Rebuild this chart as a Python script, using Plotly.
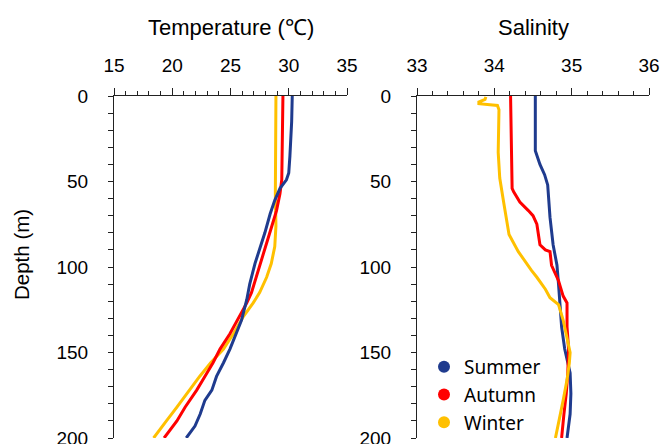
import plotly.graph_objects as go

# ---------------- data ----------------
seasons = ["Summer", "Autumn", "Winter"]
colors = ["#1F3B8E", "#FF0000", "#FFC000"]

temp_summer_depth = [0, 15, 35, 45, 49, 54, 61, 69, 80, 88, 98, 110, 119, 131, 139, 148, 156, 164, 172, 178, 186, 193, 200]
temp_summer = [30.3, 30.25, 30.1, 30.0, 29.8, 29.25, 28.8, 28.4, 27.95, 27.55, 27.1, 26.65, 26.4, 25.95, 25.5, 24.95, 24.4, 23.8, 23.4, 22.8, 22.4, 21.95, 21.2]

temp_autumn_depth = [0, 35, 49, 57, 67, 76, 86, 96, 106, 115, 121, 129, 139, 148, 156, 164, 172, 182, 190, 200]
temp_autumn = [29.5, 29.4, 29.4, 29.25, 28.95, 28.55, 28.1, 27.65, 27.25, 26.8, 26.4, 25.75, 24.95, 24.1, 23.5, 22.8, 22.1, 21.1, 20.4, 19.3]

temp_winter_depth = [0, 40, 57, 76, 88, 98, 106, 115, 121, 129, 139, 148, 156, 164, 172, 182, 190, 200]
temp_winter = [28.9, 28.85, 28.85, 28.9, 28.8, 28.5, 28.1, 27.5, 26.95, 26.1, 25.25, 24.4, 23.3, 22.35, 21.5, 20.4, 19.5, 18.4]

sal_summer_depth = [0, 32, 40, 46, 52, 71, 87, 99, 110, 121, 135, 148, 162, 174, 186, 200]
sal_summer = [34.53, 34.53, 34.59, 34.65, 34.69, 34.72, 34.76, 34.81, 34.83, 34.85, 34.87, 34.91, 34.98, 34.99, 34.98, 34.94]

sal_autumn_depth = [0, 30, 54, 56, 62, 67, 70, 75, 81, 87, 90, 91, 99, 108, 117, 121, 135, 148, 162, 174, 186, 200]
sal_autumn = [34.21, 34.22, 34.23, 34.25, 34.33, 34.44, 34.50, 34.55, 34.57, 34.59, 34.66, 34.72, 34.74, 34.83, 34.89, 34.94, 34.94, 34.96, 34.95, 34.93, 34.90, 34.87]

sal_winter_depth = [0.5, 2, 3.5, 4.5, 5.5, 8, 33, 48, 62, 71, 81, 91, 97, 102, 106, 113, 118, 122, 131, 141, 150, 156, 166, 178, 190, 200]
sal_winter = [33.89, 33.88, 33.80, 33.80, 34.04, 34.06, 34.05, 34.07, 34.12, 34.15, 34.19, 34.31, 34.40, 34.48, 34.55, 34.66, 34.72, 34.83, 34.89, 34.94, 34.98, 34.97, 34.94, 34.89, 34.84, 34.79]

temp_x_ticks = [15, 20, 25, 30, 35]
sal_x_ticks = [33, 34, 35, 36]
depth_ticks = [0, 50, 100, 150, 200]

# ---------------- figure ----------------
W, H = 660, 444
FONT = "Liberation Sans, Arial, sans-serif"

fig = go.Figure()

temps = [(temp_summer_depth, temp_summer), (temp_autumn_depth, temp_autumn), (temp_winter_depth, temp_winter)]
sals = [(sal_summer_depth, sal_summer), (sal_autumn_depth, sal_autumn), (sal_winter_depth, sal_winter)]

for i in [2, 1, 0]:
    d, v = temps[i]
    fig.add_trace(go.Scatter(x=v, y=d, mode="lines", xaxis="x", yaxis="y",
                             line=dict(color=colors[i], width=3), showlegend=False,
                             hoverinfo="skip"))
for i in [0, 1, 2]:
    d, v = sals[i]
    fig.add_trace(go.Scatter(x=v, y=d, mode="lines", xaxis="x2", yaxis="y2",
                             line=dict(color=colors[i], width=3), showlegend=False,
                             hoverinfo="skip"))

# legend entries (dots)
for i, s in enumerate(seasons):
    fig.add_trace(go.Scatter(x=[None], y=[None], mode="markers", name=s,
                             xaxis="x2", yaxis="y2",
                             marker=dict(color=colors[i], size=9)))

axis_common = dict(showline=True, linecolor="#222", linewidth=1.2, ticks="outside",
                   tickcolor="#222", tickwidth=1.2, showgrid=False, zeroline=False,
                   automargin=False, ticklabeloverflow="allow",
                   tickfont=dict(family=FONT, size=19, color="#000"))

ydom = [1 - 438 / H, 1 - 96 / H]

fig.update_layout(
    width=W, height=H,
    margin=dict(l=0, r=0, t=0, b=0, autoexpand=False),
    paper_bgcolor="white", plot_bgcolor="white",
    xaxis=dict(domain=[114 / W, 347 / W], range=[15, 35], side="top", anchor="y",
               tickvals=temp_x_ticks, ticklen=7, ticklabelstandoff=8,
               minor=dict(dtick=1, tick0=15, ticklen=4, ticks="outside", tickcolor="#222", tickwidth=1.2),
               **axis_common),
    yaxis=dict(domain=ydom, range=[200, 0], anchor="x",
               tickvals=depth_ticks, ticklen=5, ticklabelstandoff=16,
               minor=dict(dtick=10, tick0=0, ticklen=5, ticks="outside", tickcolor="#222", tickwidth=1.2),
               **axis_common),
    xaxis2=dict(domain=[417 / W, 649 / W], range=[33, 36], side="top", anchor="y2",
                tickvals=sal_x_ticks, ticklen=7, ticklabelstandoff=8,
                minor=dict(dtick=0.2, tick0=33, ticklen=4, ticks="outside", tickcolor="#222", tickwidth=1.2),
                **axis_common),
    yaxis2=dict(domain=ydom, range=[200, 0], anchor="x2",
                tickvals=depth_ticks, ticklen=5, ticklabelstandoff=16,
                minor=dict(dtick=10, tick0=0, ticklen=5, ticks="outside", tickcolor="#222", tickwidth=1.2),
                **axis_common),
    legend=dict(x=424 / W, y=1 - 348 / H, xanchor="left", yanchor="top",
                bgcolor="rgba(0,0,0,0)", font=dict(family="Noto Sans, Open Sans, sans-serif", size=19, color="#000"),
                tracegroupgap=0, itemsizing="constant"),
    showlegend=True,
    annotations=[
        dict(text="Temperature (℃)", x=230.5 / W, y=1 - 27 / H, xref="paper", yref="paper",
             xanchor="center", yanchor="middle", showarrow=False,
             font=dict(family=FONT, size=22, color="#000")),
        dict(text="Salinity", x=533 / W, y=1 - 27 / H, xref="paper", yref="paper",
             xanchor="center", yanchor="middle", showarrow=False,
             font=dict(family=FONT, size=22, color="#000")),
        dict(text="Depth (m)", x=21 / W, y=1 - 254 / H, xref="paper", yref="paper",
             xanchor="center", yanchor="middle", showarrow=False, textangle=-90,
             font=dict(family=FONT, size=20.5, color="#000")),
    ],
)

fig.write_html("out.html")
